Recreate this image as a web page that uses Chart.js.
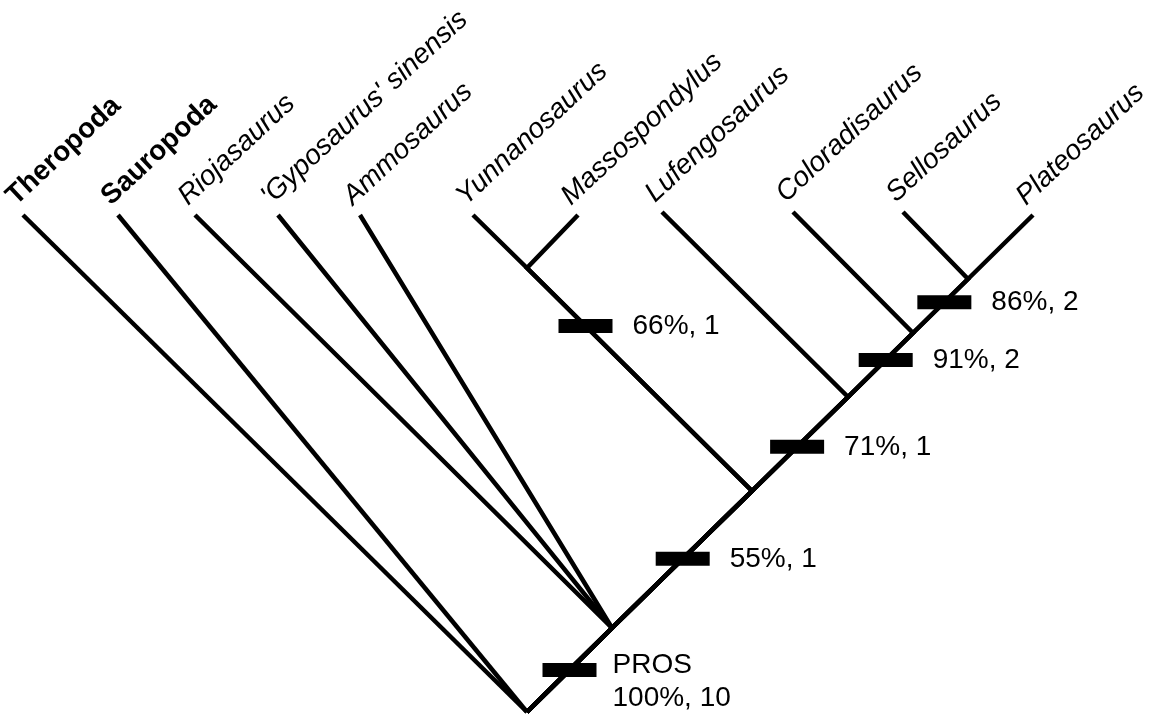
<!DOCTYPE html>
<html>
<head>
<meta charset="utf-8">
<script src="https://cdn.jsdelivr.net/npm/chart.js@4"></script>
<style>
  html, body { margin: 0; padding: 0; background: #fff; }
  #wrap { width: 1150px; height: 715px; position: relative; }
</style>
</head>
<body>
<div id="wrap"><canvas id="cladogram"></canvas></div>
<script>
// Terminal taxa, left to right
const taxa = ['Theropoda', 'Sauropoda', 'Riojasaurus', "'Gyposaurus' sinensis", 'Ammosaurus',
    'Yunnanosaurus', 'Massospondylus', 'Lufengosaurus', 'Coloradisaurus', 'Sellosaurus', 'Plateosaurus'];
const taxaStyle = ['bold', 'bold', 'italic', 'italic', 'italic', 'italic', 'italic', 'italic', 'italic', 'italic', 'italic'];
// tip positions (chart units)
const tipX = [23, 118, 195, 278, 360, 473, 578, 662, 793, 903, 1033];
const tipY = [215, 215, 215, 215, 215, 215, 215, 212, 212, 212, 215];
const tipParent = ['root', 'root', 'pros', 'pros', 'pros', 'yun', 'yun', 'n71', 'n91', 'n86', 'n86'];

// Internal nodes
const nodeIds = ['root', 'pros', 'n55', 'yun', 'n71', 'n91', 'n86'];
const nodeX = [527, 612, 752, 527, 848, 913, 968];
const nodeY = [712, 628, 491, 268, 397, 333, 279];
const nodeParent = [null, 'root', 'pros', 'n55', 'n55', 'n71', 'n91'];

// Support bars: branch (child node), position along the branch, label
const supportBranch = ['pros', 'n55', 'yun', 'n71', 'n91', 'n86'];
const supportPos = [0.5, 0.505, 0.74, 0.47, 0.58, 0.57];
const supportLabel = [['PROS', '100%, 10'], ['55%, 1'], ['66%, 1'], ['71%, 1'], ['91%, 2'], ['86%, 2']];

const FONT = '"Liberation Sans", Arial, Helvetica, sans-serif';

function nodeXY(id) {
    const i = nodeIds.indexOf(id);
    return { x: nodeX[i], y: nodeY[i], parent: nodeParent[i] };
}

// path from each tip down to the root
function tipPath(i) {
    const pts = [{ x: tipX[i], y: tipY[i] }];
    let id = tipParent[i];
    while (id) {
        const n = nodeXY(id);
        pts.push({ x: n.x, y: n.y });
        id = n.parent;
    }
    return pts;
}

const datasets = taxa.map((t, i) => ({
    label: t,
    data: tipPath(i),
    showLine: true,
    borderColor: '#000',
    borderWidth: 4.5,
    borderCapStyle: 'butt',
    borderJoinStyle: 'miter',
    pointRadius: 0,
    clip: false
}));

// bar positions along branches
const barCenters = supportBranch.map((id, k) => {
    const c = nodeXY(id);
    const p = nodeXY(c.parent);
    const t = supportPos[k];
    return { x: p.x + (c.x - p.x) * t, y: p.y + (c.y - p.y) * t };
});

barCenters.forEach((c, k) => {
    datasets.push({
        label: supportLabel[k].join(' '),
        data: [{ x: c.x - 27, y: c.y }, { x: c.x + 27, y: c.y }],
        showLine: true,
        borderColor: '#000',
        borderWidth: 14,
        borderCapStyle: 'butt',
        pointRadius: 0,
        clip: false
    });
});

// draws taxon names and support values
const labelPlugin = {
    id: 'cladeLabels',
    afterDatasetsDraw(chart) {
        const ctx = chart.ctx;
        const xs = chart.scales.x, ys = chart.scales.y;
        ctx.save();
        ctx.fillStyle = '#000';
        taxa.forEach((t, i) => {
            const px = xs.getPixelForValue(tipX[i]) - 7;
            const py = ys.getPixelForValue(tipY[i]) - 9;
            ctx.save();
            ctx.translate(px, py);
            ctx.rotate(-43 * Math.PI / 180);
            ctx.font = taxaStyle[i] + ' 28px ' + FONT;
            ctx.textAlign = 'left';
            ctx.textBaseline = 'alphabetic';
            ctx.fillText(t, 0, 0);
            ctx.restore();
        });
        ctx.font = '28px ' + FONT;
        ctx.textAlign = 'left';
        ctx.textBaseline = 'middle';
        barCenters.forEach((c, k) => {
            const px = xs.getPixelForValue(c.x + 27) + 20;
            const py = ys.getPixelForValue(c.y);
            const lines = supportLabel[k];
            if (lines.length > 1) {
                ctx.fillText(lines[0], px - 4, py - 5);
                ctx.fillText(lines[1], px - 4, py + 28);
            } else {
                ctx.fillText(lines[0], px, py);
            }
        });
        ctx.restore();
    }
};

function createChart(chartId) {
    const el = document.getElementById(chartId);
    if (!el) {
        console.error(`Element with id ${chartId} not found.`);
        return null;
    }
    return new Chart(el, {
        type: 'scatter',
        data: { datasets: datasets },
        options: {
            responsive: true,
            maintainAspectRatio: false,
            animation: false,
            events: [],
            layout: { padding: 0 },
            scales: {
                x: { type: 'linear', min: 0, max: 1150, display: false },
                y: { type: 'linear', min: 0, max: 715, reverse: true, display: false }
            },
            plugins: {
                legend: { display: false },
                tooltip: { enabled: false }
            }
        },
        plugins: [labelPlugin]
    });
}

createChart('cladogram');
</script>
</body>
</html>
